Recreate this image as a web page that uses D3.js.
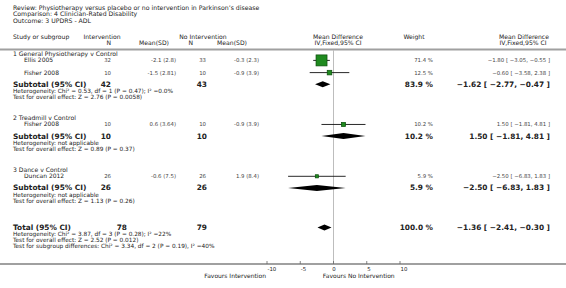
<!DOCTYPE html>
<html>
<head>
<meta charset="utf-8">
<script src="https://cdn.jsdelivr.net/npm/d3@7/dist/d3.min.js"></script>
<style>
    body { margin: 0; background: #fff; }
    text { font-family: "DejaVu Sans", Verdana, sans-serif; fill: #222; }
</style>
</head>
<body>
<svg id="forest"></svg>
<script>
let titleLines = [
    "Review:  Physiotherapy versus placebo or no intervention in Parkinson\u2019s disease",
    "Comparison:  4 Clinician-Rated Disability",
    "Outcome:  3 UPDRS - ADL"
]

let groups = ["1 General Physiotherapy v Control", "2 Treadmill v Control", "3 Dance v Control"]

let studies = [
    { group: 0, name: "Ellis 2005", n1: 32, msd1: "-2.1 (2.8)", n2: 33, msd2: "-0.3 (2.3)", weight: 71.4, md: -1.80, lo: -3.05, hi: -0.55 },
    { group: 0, name: "Fisher 2008", n1: 10, msd1: "-1.5 (2.81)", n2: 10, msd2: "-0.9 (3.9)", weight: 12.5, md: -0.60, lo: -3.58, hi: 2.38 },
    { group: 1, name: "Fisher 2008", n1: 10, msd1: "0.6 (3.64)", n2: 10, msd2: "-0.9 (3.9)", weight: 10.2, md: 1.50, lo: -1.81, hi: 4.81 },
    { group: 2, name: "Duncan 2012", n1: 26, msd1: "-0.6 (7.5)", n2: 26, msd2: "1.9 (8.4)", weight: 5.9, md: -2.50, lo: -6.83, hi: 1.83 }
]

let subtotals = [
    { group: 0, n1: 42, n2: 43, weight: 83.9, md: -1.62, lo: -2.77, hi: -0.47 },
    { group: 1, n1: 10, n2: 10, weight: 10.2, md: 1.50, lo: -1.81, hi: 4.81 },
    { group: 2, n1: 26, n2: 26, weight: 5.9, md: -2.50, lo: -6.83, hi: 1.83 }
]

let subtotalNotes = [
    ["Heterogeneity: Chi\u00b2 = 0.53, df = 1 (P = 0.47); I\u00b2 =0.0%", "Test for overall effect: Z = 2.76 (P = 0.0058)"],
    ["Heterogeneity: not applicable", "Test for overall effect: Z = 0.89 (P = 0.37)"],
    ["Heterogeneity: not applicable", "Test for overall effect: Z = 1.13 (P = 0.26)"]
]

let total = { n1: 78, n2: 79, weight: 100.0, md: -1.36, lo: -2.41, hi: -0.30 }

let totalNotes = [
    "Heterogeneity: Chi\u00b2 = 3.87, df = 3 (P = 0.28); I\u00b2 =22%",
    "Test for overall effect: Z = 2.52 (P = 0.012)",
    "Test for subgroup differences: Chi\u00b2 = 3.34, df = 2 (P = 0.19), I\u00b2 =40%"
]

let ticks = [-10, -5, 0, 5, 10]
let favours = ["Favours Intervention", "Favours No Intervention"]

const width = 566, height = 288;

const svg = d3.select('#forest')
    .attr('width', width)
    .attr('height', height)

// x scale for the effect plot
const x = d3.scaleLinear().domain([-10, 10]).range([267, 400]);

// row positions, in line units
const y = d3.scaleLinear().domain([0, 1]).range([54, 60.1]);
const boxSize = d3.scaleSqrt().domain([0, 71.4]).range([0, 11]);

// build the list of rows
let rows = [];
let line = 0;
groups.forEach((g, gi) => {
    rows.push({ type: 'heading', text: g, line: line });
    let gs = studies.filter(s => s.group == gi);
    gs.forEach((s, i) => {
        line += (i == 0) ? 1.05 : 2;
        rows.push({ type: 'study', d: s, line: line });
    })
    line += 1.9;
    rows.push({ type: 'subtotal', d: subtotals[gi], line: line });
    line += 1.15;
    rows.push({ type: 'note', text: subtotalNotes[gi][0], line: line });
    line += 1;
    rows.push({ type: 'note', text: subtotalNotes[gi][1], line: line });
    line += 3.4;
})
line += 0.95;
rows.push({ type: 'total', d: total, line: line });
line += 1.05;
totalNotes.forEach(t => {
    rows.push({ type: 'note', text: t, line: line });
    line += 1;
})

// titles
svg.selectAll('.title')
    .data(titleLines)
    .enter()
    .append('text')
    .attr('class', 'title')
    .attr('x', 13)
    .attr('y', (d, i) => 10 + i * 6.3)
    .attr('font-size', 6.2)
    .text(d => d)

// column headers
const headers = [
    { t: "Study or subgroup", x: 13, y: 39, a: 'start' },
    { t: "Intervention", x: 102, y: 39, a: 'middle' },
    { t: "N", x: 111, y: 45, a: 'end' },
    { t: "Mean(SD)", x: 154, y: 45, a: 'middle' },
    { t: "No Intervention", x: 203, y: 39, a: 'middle' },
    { t: "N", x: 193, y: 45, a: 'end' },
    { t: "Mean(SD)", x: 232, y: 45, a: 'middle' },
    { t: "Mean Difference", x: 338, y: 39, a: 'middle' },
    { t: "IV,Fixed,95% CI", x: 338, y: 45, a: 'middle' },
    { t: "Weight", x: 414, y: 39, a: 'middle' },
    { t: "Mean Difference", x: 524, y: 39, a: 'middle' },
    { t: "IV,Fixed,95% CI", x: 523, y: 45, a: 'middle' }
]
svg.selectAll('.header')
    .data(headers)
    .enter()
    .append('text')
    .attr('class', 'header')
    .attr('x', d => d.x)
    .attr('y', d => d.y)
    .attr('text-anchor', d => d.a)
    .attr('font-size', 6.1)
    .text(d => d.t)

svg.append('line')
    .attr('x1', 0).attr('x2', width)
    .attr('y1', 49.5).attr('y2', 49.5)
    .attr('stroke', '#a0a0a0')
    .attr('stroke-width', 2)

// zero line
svg.append('line')
    .attr('x1', x(0)).attr('x2', x(0))
    .attr('y1', 50).attr('y2', 264)
    .attr('stroke', '#bdbdbd')
    .attr('stroke-width', 1)

const fmt = d3.format('.2f');
const ciText = d => fmt(d.md) + " [ " + fmt(d.lo) + ", " + fmt(d.hi) + " ]";

rows.forEach(r => {
    let yy = y(r.line);
    if (r.type == 'heading') {
        svg.append('text').attr('x', 13).attr('y', yy + 2).attr('font-size', 6.1).text(r.text)
    } else if (r.type == 'note') {
        svg.append('text').attr('x', 13).attr('y', yy + 2).attr('font-size', 5.8).text(r.text)
    } else if (r.type == 'study') {
        let d = r.d;
        let g = svg.append('g').attr('class', 'study')
        let cells = [
            { t: d.name, x: 24, a: 'start' },
            { t: d.n1, x: 111, a: 'end' },
            { t: d.msd1, x: 176, a: 'end' },
            { t: d.n2, x: 206, a: 'end' },
            { t: d.msd2, x: 259, a: 'end' },
            { t: d.weight.toFixed(1) + " %", x: 433, a: 'end' },
            { t: ciText(d), x: 550, a: 'end' }
        ]
        g.selectAll('text')
            .data(cells)
            .enter()
            .append('text')
            .attr('x', c => c.x)
            .attr('y', yy + 2)
            .attr('text-anchor', c => c.a)
            .attr('font-size', c => c.a == 'start' ? 6 : 5.4)
            .style('fill', c => c.a == 'start' ? '#222' : '#444')
            .text(c => c.t)

        g.append('line')
            .attr('x1', x(d.lo)).attr('x2', x(d.hi))
            .attr('y1', yy).attr('y2', yy)
            .attr('stroke', '#111')
            .attr('stroke-width', 0.9)
        let s = boxSize(d.weight)
        g.append('rect')
            .attr('x', x(d.md) - s / 2)
            .attr('y', yy - s / 2)
            .attr('width', s)
            .attr('height', s)
            .attr('fill', '#1f8a1f')
            .attr('stroke', '#0a4d0a')
            .attr('stroke-width', 0.7)
    } else {
        let d = r.d;
        let isTotal = r.type == 'total';
        let g = svg.append('g').attr('class', r.type)
        let cells = [
            { t: isTotal ? "Total (95% CI)" : "Subtotal (95% CI)", x: 13, a: 'start' },
            { t: d.n1, x: isTotal ? 127 : 111, a: 'end' },
            { t: d.n2, x: 207, a: 'end' },
            { t: d.weight.toFixed(1) + " %", x: 433, a: 'end' },
            { t: ciText(d), x: 550, a: 'end' }
        ]
        g.selectAll('text')
            .data(cells)
            .enter()
            .append('text')
            .attr('x', c => c.x)
            .attr('y', yy + 2.6)
            .attr('text-anchor', c => c.a)
            .attr('font-size', 7.4)
            .attr('font-weight', 'bold')
            .text(c => c.t)

        g.append('path')
            .attr('d', d3.line()([
                [x(d.lo), yy], [x(d.md), yy - 3], [x(d.hi), yy], [x(d.md), yy + 3]
            ]) + 'Z')
            .attr('fill', '#000')
    }
})

// axis
const axisY = 264;
svg.append('line')
    .attr('x1', 0).attr('x2', width)
    .attr('y1', axisY).attr('y2', axisY)
    .attr('stroke', '#a0a0a0')
    .attr('stroke-width', 2)

svg.selectAll('.tick')
    .data(ticks)
    .enter()
    .append('line')
    .attr('class', 'tick')
    .attr('x1', d => x(d)).attr('x2', d => x(d))
    .attr('y1', axisY - 3).attr('y2', axisY)
    .attr('stroke', '#666')
    .attr('stroke-width', 0.8)

svg.selectAll('.tick-label')
    .data(ticks)
    .enter()
    .append('text')
    .attr('class', 'tick-label')
    .attr('x', d => x(d) + 0.5)
    .attr('y', axisY + 7)
    .attr('text-anchor', d => d == 0 ? 'middle' : 'start')
    .attr('font-size', 5.4)
    .text(d => d)

svg.append('text')
    .attr('x', x(-10) - 1)
    .attr('y', 278)
    .attr('text-anchor', 'end')
    .attr('font-size', 6)
    .text(favours[0])

svg.append('text')
    .attr('x', x(-1.6))
    .attr('y', 278)
    .attr('font-size', 6)
    .text(favours[1])
</script>
</body>
</html>
